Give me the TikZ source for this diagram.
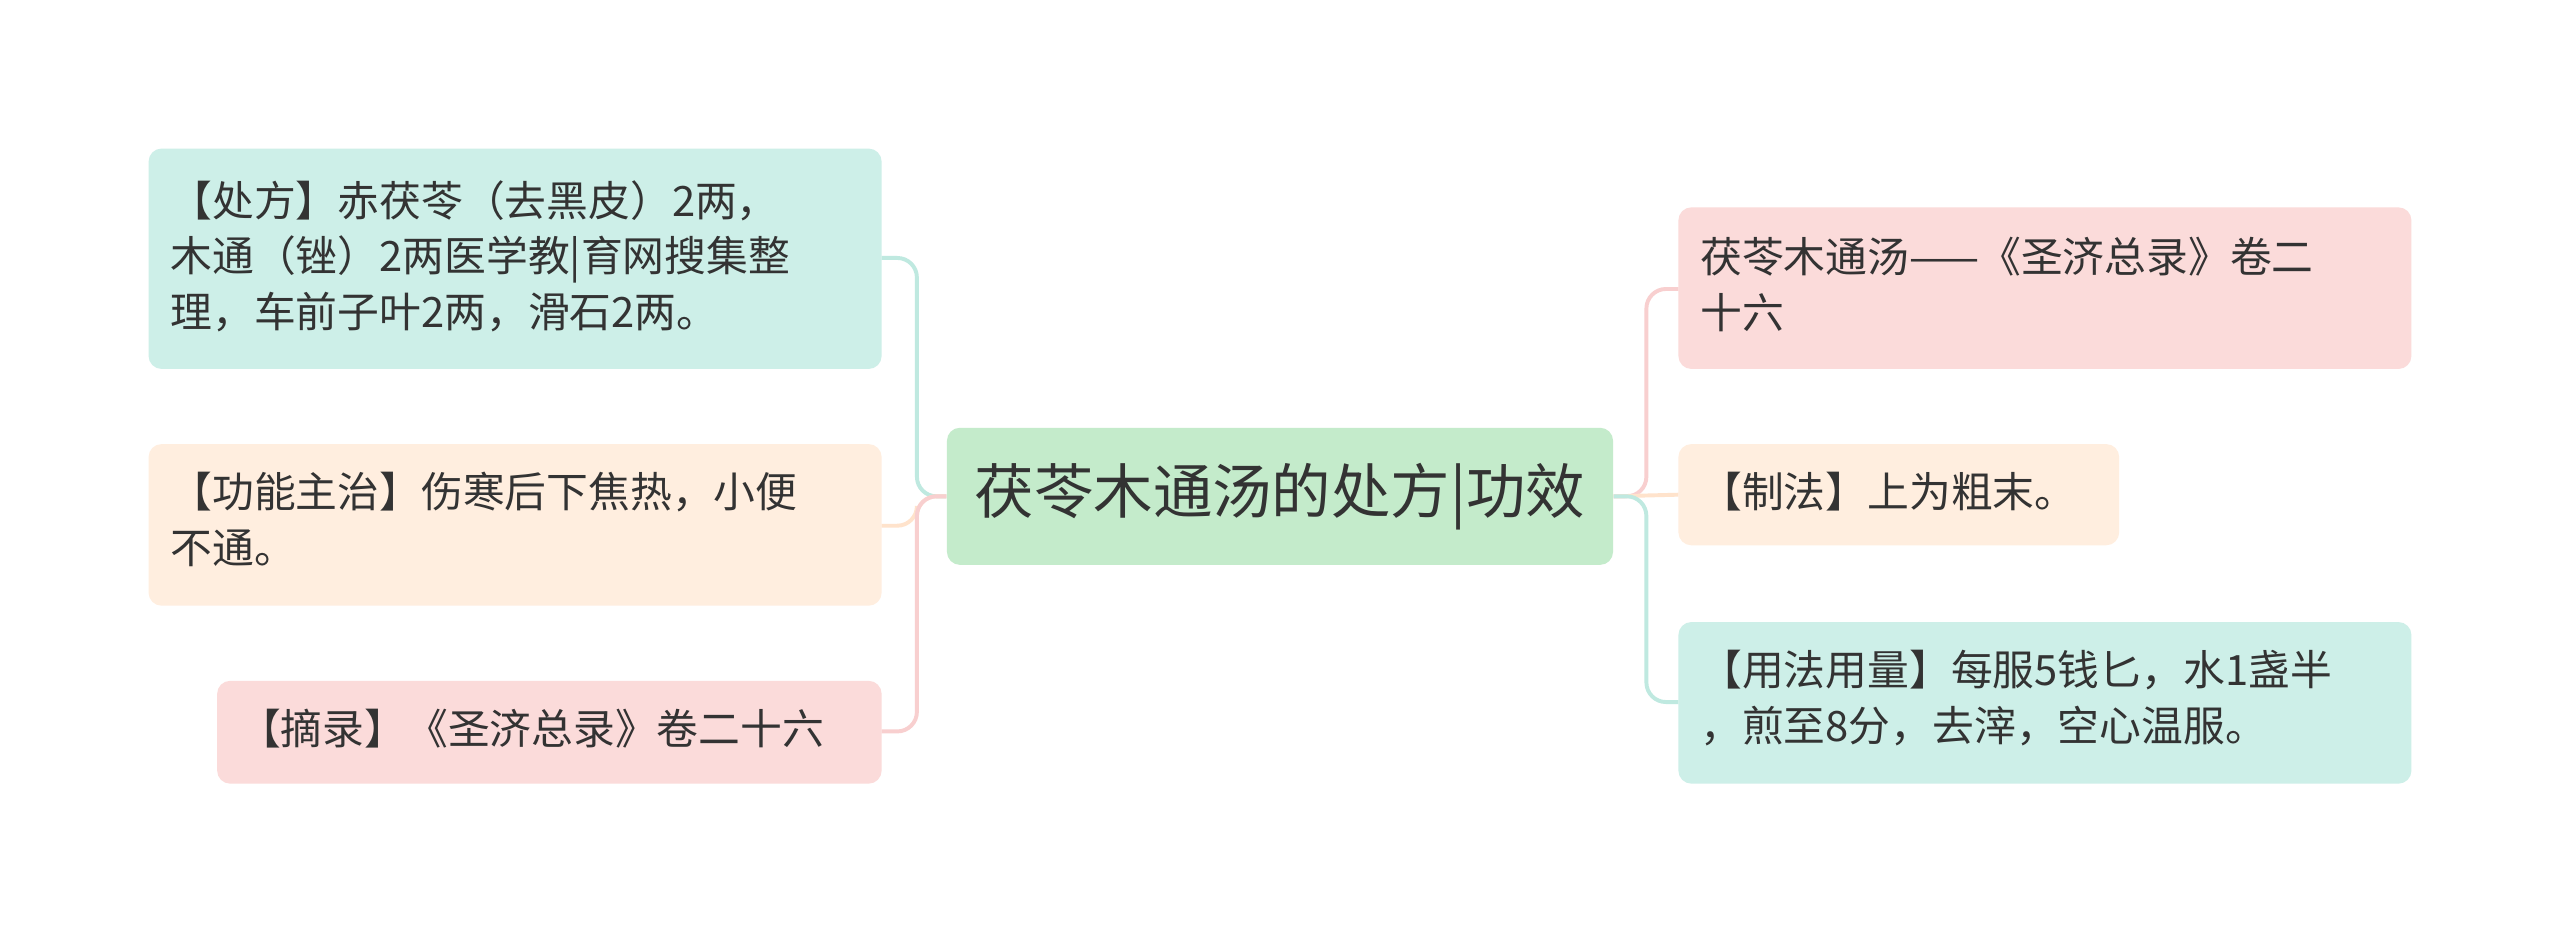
\documentclass[tikz,border=0pt]{standalone}
\usepackage{fontspec}
\setmainfont{Noto Sans CJK SC}
\definecolor{teal}{HTML}{CDEFE8}
\definecolor{orng}{HTML}{FFEEDF}
\definecolor{pink}{HTML}{FBDBDA}
\definecolor{grn}{HTML}{C4EBCB}
\definecolor{tealL}{HTML}{BFE9E0}
\definecolor{orngL}{HTML}{FFE3CC}
\definecolor{pinkL}{HTML}{F8CFCF}
\definecolor{txt}{HTML}{333333}
\tikzset{
 box/.style={inner sep=0pt, align=left, text=txt,
   font=\fontsize{12.8}{17}\selectfont, anchor=north west},
 conn/.style={draw=#1, line width=1.2pt, rounded corners=6pt}
}
\begin{document}
\begin{tikzpicture}[x=0.5pt,y=-0.5pt]
\useasboundingbox[fill=white] (0,0) rectangle (1568,571);
\node[fill=grn, rounded corners=4pt, minimum width=204pt, minimum height=42pt, inner sep=0pt, text=txt, font=\fontsize{18.2}{22}\selectfont] (c) at (784,304) {茯苓木通汤的处方|功效};
% left
\fill[teal, rounded corners=4pt] (91,91) rectangle (540,226);
\node[box, text width=215pt] (l1t) at (104,110) {【处方】赤茯苓（去黑皮）2两，\\木通（锉）2两医学教|育网搜集整\\理，车前子叶2两，滑石2两。};
\coordinate (L1) at (540,158);
\fill[orng, rounded corners=4pt] (91,272) rectangle (540,371);
\node[box, text width=215pt] (l2t) at (104,289) {【功能主治】伤寒后下焦热，小便\\不通。};
\coordinate (L2) at (540,322);
\fill[pink, rounded corners=4pt] (133,417) rectangle (540,480);
\node[box, text width=190pt] (l3t) at (146,434) {【摘录】《圣济总录》卷二十六};
\coordinate (L3) at (540,448);
% right
\fill[pink, rounded corners=4pt] (1028,127) rectangle (1477,226);
\node[box, text width=215pt] (r1t) at (1041,145) {茯苓木通汤——《圣济总录》卷二\\十六};
\coordinate (R1) at (1028,177);
\fill[orng, rounded corners=4pt] (1028,272) rectangle (1298,334);
\node[box, text width=120pt] (r2t) at (1041,289) {【制法】上为粗末。};
\coordinate (R2) at (1028,303);
\fill[teal, rounded corners=4pt] (1028,381) rectangle (1477,480);
\node[box, text width=215pt] (r3t) at (1041,398) {【用法用量】每服5钱匕，水1盏半\\，煎至8分，去滓，空心温服。};
\coordinate (R3) at (1028,430);
% connectors
\draw[conn=tealL] (c.west) -- ++(-18,0) |- (L1);
\draw[conn=orngL] (c.west) -- ++(-18,0) |- (L2);
\draw[conn=pinkL] (c.west) -- ++(-18,0) |- (L3);
\draw[conn=pinkL] (c.east) -- ++(20,0) |- (R1);
\draw[conn=orngL] (c.east) -- (R2);
\draw[conn=tealL] (c.east) -- ++(20,0) |- (R3);
\end{tikzpicture}
\end{document}
